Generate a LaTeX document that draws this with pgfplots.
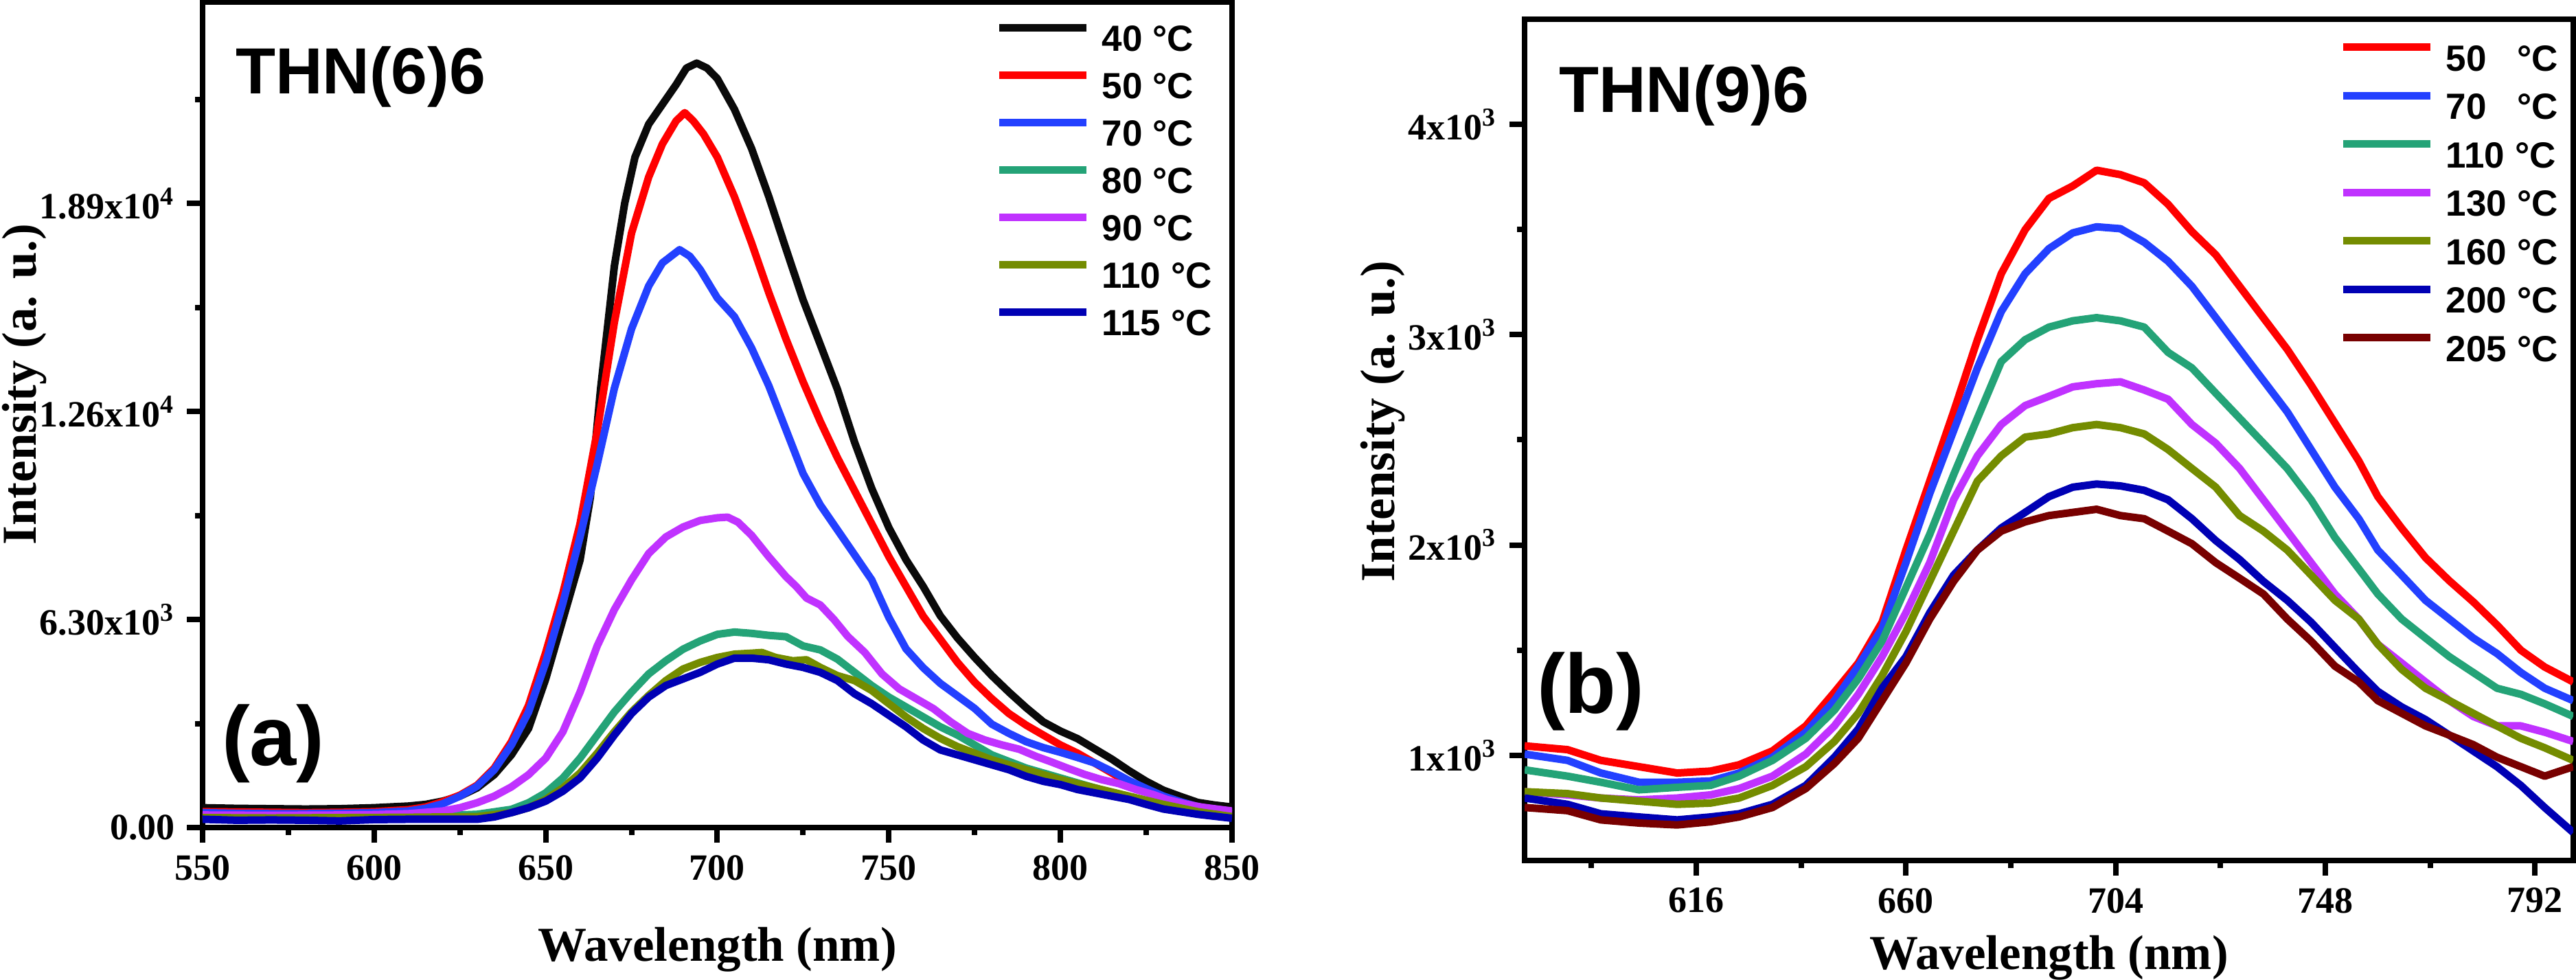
\documentclass[border=0pt]{standalone}
\usepackage{pgfplots}
\usepackage{pgfplotstable}
\pgfplotsset{compat=1.18}
\usepackage{fontspec}
\setmainfont{Liberation Serif}
\newfontfamily\arial{Liberation Sans}
\definecolor{cA}{RGB}{10,10,10}
\definecolor{cB}{RGB}{255,0,0}
\definecolor{cC}{RGB}{35,64,255}
\definecolor{cD}{RGB}{36,163,119}
\definecolor{cE}{RGB}{192,50,255}
\definecolor{cF}{RGB}{116,140,0}
\definecolor{cG}{RGB}{0,0,180}
\definecolor{cH}{RGB}{120,0,0}
\newcommand\tickfont{\fontsize{10.8}{12}\selectfont\bfseries}
\newcommand\labfont{\fontsize{14.2}{17}\selectfont\bfseries}
\newcommand\legfont{\arial\bfseries\fontsize{10.6}{12}\selectfont}

\pgfplotstableread{
x r b g p o n br
580 1045 1006 931 827 827 797 752
589 1027 976 901 812 818 767 737
596 976 916 872 797 797 722 693
604 946 872 836 788 782 707 678
612 916 872 848 797 767 693 669
619 925 878 857 812 773 707 684
625 955 916 901 842 797 722 707
632 1021 991 976 901 857 767 752
639 1140 1110 1081 1006 946 857 842
645 1300 1260 1215 1140 1066 991 961
650 1439 1424 1364 1290 1200 1125 1081
655 1633 1603 1543 1469 1379 1319 1260
660 1976 1916 1797 1678 1588 1469 1439
665 2304 2245 2051 1916 1827 1678 1648
670 2633 2543 2334 2215 2066 1857 1827
675 2976 2842 2603 2424 2304 1976 1976
680 3290 3110 2872 2573 2424 2081 2066
685 3499 3290 2976 2663 2513 2155 2110
690 3648 3409 3036 2707 2528 2230 2140
695 3707 3484 3066 2752 2558 2275 2155
700 3782 3513 3081 2767 2573 2290 2170
705 3761 3504 3066 2776 2558 2281 2140
710 3722 3439 3036 2737 2528 2260 2125
715 3620 3349 2916 2693 2454 2215 2066
720 3490 3230 2842 2573 2364 2125 2006
725 3380 3081 2722 2484 2275 2021 1916
730 3230 2931 2603 2364 2140 1931 1842
735 3080 2782 2484 2215 2066 1827 1767
740 2930 2633 2364 2066 1976 1737 1648
745 2760 2454 2215 1916 1857 1633 1543
750 2580 2275 2036 1767 1737 1513 1424
755 2400 2125 1887 1648 1648 1394 1349
759 2230 1976 1767 1528 1528 1304 1260
764 2080 1857 1648 1439 1409 1230 1200
769 1940 1737 1558 1349 1319 1170 1140
774 1830 1648 1469 1260 1260 1096 1096
779 1730 1558 1394 1185 1200 1021 1051
784 1620 1484 1319 1140 1140 946 991
789 1500 1394 1290 1140 1081 857 946
794 1420 1319 1245 1110 1036 752 901
800 1349 1260 1185 1066 976 633 946
}\tableB

\pgfplotsset{
  myaxis/.style={
    scale only axis, anchor=south west,
    axis line style={line width=1.7pt},
    tick pos=left, tick align=outside,
    major tick length=4.5pt, minor tick length=2.2pt,
    tick style={black, line width=1.6pt},
    tick label style={font=\tickfont},
    /pgf/number format/assume math mode=true,
    label style={font=\labfont},
    legend cell align=left,
    legend image code/.code={\draw[line width=2.2pt] (0pt,3.8pt) -- (25.4pt,3.8pt); \path (28.8pt,0pt);},
    every axis plot/.append style={line width=2.2pt, line join=round},
  },
}

\begin{document}
\begin{tikzpicture}
\useasboundingbox (0,0) rectangle (750.2pt,285.4pt);

\begin{axis}[myaxis,
  at={(59pt,44.4pt)}, width=299.8pt, height=240.4pt,
  xmin=550, xmax=850, ymin=0, ymax=25000,
  xtick={550,600,650,700,750,800,850},
  minor xtick={575,625,675,725,775,825},
  ytick={0,6300,12600,18900},
  minor ytick={3150,9450,15750,22050},
  yticklabels={0.00, 6.30x10\textsuperscript{3}, 1.26x10\textsuperscript{4}, 1.89x10\textsuperscript{4}},
  xlabel={Wavelength (nm)},
  xlabel style={at={(axis description cs:0.5,0)}, anchor=base, yshift=-39pt},
  ylabel={Intensity (a. u.)},
  ylabel style={at={(axis description cs:-0.1621,0.537)}, anchor=base},
  legend style={at={(0.7705,0.9813)}, anchor=north west, draw=none, fill=none,
    inner sep=0pt, outer sep=0pt, row sep=0pt, font=\legfont,
    nodes={inner sep=0pt, text height=9.9pt, text depth=3.9pt}},
]
\addplot[cA] coordinates {(550,600)(560,580)(570,570)(580,560)(590,570)(600,600)(610,650)(615,700)(620,800)(625,950)(630,1200)(635,1600)(640,2200)(645,3000)(650,4500)(655,6300)(660,8100)(663,10000)(666,13300)(670,17000)(673,18900)(676,20300)(680,21300)(684,21900)(688,22500)(691,23000)(694,23150)(697,23000)(700,22680)(705,21750)(710,20560)(715,19110)(720,17530)(725,15980)(730,14630)(735,13270)(740,11670)(745,10270)(750,9080)(755,8110)(760,7300)(765,6410)(770,5740)(775,5150)(780,4600)(785,4100)(790,3630)(795,3200)(800,2920)(805,2690)(810,2380)(815,2070)(820,1720)(825,1400)(830,1130)(835,940)(840,760)(845,680)(850,620)};
\addlegendentry{40 °C}
\addplot[cB] coordinates {(550,480)(560,470)(570,460)(580,450)(590,460)(600,480)(610,540)(615,620)(620,780)(625,980)(630,1280)(635,1800)(640,2600)(645,3700)(650,5300)(655,7100)(660,9200)(665,12000)(670,15300)(675,18000)(680,19700)(684,20700)(688,21400)(690.5,21650)(693,21400)(696,21000)(700,20300)(705,19100)(710,17700)(715,16200)(720,14800)(725,13500)(730,12300)(735,11200)(740,10200)(745,9200)(750,8200)(755,7300)(760,6400)(765,5700)(770,5000)(775,4400)(780,3900)(785,3450)(790,3100)(795,2800)(800,2500)(805,2250)(810,1950)(815,1650)(820,1350)(825,1100)(830,900)(835,750)(840,600)(845,480)(850,400)};
\addlegendentry{50 °C}
\addplot[cC] coordinates {(550,450)(560,430)(570,420)(580,420)(590,430)(600,450)(610,500)(615,580)(620,720)(625,950)(630,1250)(635,1750)(640,2500)(645,3500)(650,5000)(655,6800)(660,8800)(665,11000)(670,13300)(675,15100)(680,16400)(684,17100)(689,17500)(692,17300)(695,16900)(700,16040)(705,15470)(710,14520)(715,13380)(720,12050)(725,10720)(730,9770)(735,9015)(740,8260)(745,7500)(750,6360)(755,5410)(760,4840)(765,4365)(770,3986)(775,3606)(780,3130)(785,2850)(790,2600)(795,2420)(800,2278)(805,2120)(810,1955)(815,1700)(820,1420)(825,1180)(830,950)(835,780)(840,630)(845,540)(850,475)};
\addlegendentry{70 °C}
\addplot[cD] coordinates {(550,330)(570,320)(590,330)(610,340)(620,360)(630,400)(640,550)(645,750)(650,1050)(655,1500)(660,2100)(665,2800)(670,3500)(675,4100)(680,4650)(685,5050)(690,5400)(695,5650)(700,5850)(705,5920)(710,5880)(715,5820)(720,5780)(725,5500)(730,5380)(735,5100)(740,4700)(745,4300)(750,3950)(755,3650)(760,3350)(765,3050)(770,2800)(775,2500)(780,2200)(785,2000)(790,1800)(795,1650)(800,1500)(810,1200)(820,900)(830,680)(840,520)(850,420)};
\addlegendentry{80 °C}
\addplot[cE] coordinates {(550,380)(570,370)(590,380)(600,390)(610,420)(620,500)(625,600)(630,750)(635,950)(640,1230)(645,1600)(650,2100)(655,2900)(660,4100)(665,5500)(670,6600)(675,7500)(680,8300)(685,8800)(690,9100)(695,9300)(700,9380)(703,9400)(706,9250)(710,8850)(715,8200)(720,7600)(723,7300)(726,6950)(730,6740)(734,6300)(738,5790)(743,5300)(748,4650)(753,4200)(758,3900)(763,3600)(768,3200)(773,2850)(778,2650)(783,2500)(788,2370)(793,2150)(797,2000)(802,1800)(807,1610)(812,1450)(817,1330)(822,1150)(827,1000)(831,850)(836,720)(841,620)(850,500)};
\addlegendentry{90 °C}
\addplot[cF] coordinates {(550,300)(570,290)(590,300)(610,310)(620,320)(630,330)(640,450)(645,600)(650,850)(655,1200)(660,1650)(665,2250)(670,2900)(675,3500)(680,4000)(685,4450)(690,4800)(695,5000)(700,5150)(705,5250)(710,5280)(713,5300)(717,5150)(722,5050)(726,5080)(730,4850)(735,4600)(740,4450)(745,4150)(750,3750)(755,3350)(760,3000)(765,2700)(770,2450)(775,2250)(780,2050)(785,1900)(790,1750)(800,1450)(810,1200)(820,950)(830,700)(840,480)(850,330)};
\addlegendentry{110 °C}
\addplot[cG] coordinates {(550,250)(560,220)(570,230)(580,220)(590,200)(600,240)(610,250)(620,250)(630,250)(635,320)(640,450)(645,600)(650,800)(655,1100)(660,1500)(665,2100)(670,2800)(675,3450)(680,3950)(685,4300)(690,4500)(695,4700)(700,4950)(705,5130)(710,5130)(715,5080)(720,4950)(725,4850)(730,4700)(735,4450)(740,4050)(745,3750)(750,3400)(755,3050)(760,2650)(765,2350)(770,2200)(775,2050)(780,1900)(785,1750)(790,1550)(795,1400)(800,1300)(805,1150)(810,1050)(815,950)(820,850)(825,700)(830,560)(840,400)(850,280)};
\addlegendentry{115 °C}
\end{axis}

\begin{axis}[myaxis,
  at={(444pt,34.8pt)}, width=305.4pt, height=245pt,
  xmin=580, xmax=800, ymin=500, ymax=4500,
  xtick={616,660,704,748,792},
  minor xtick={594,638,682,726,770},
  ytick={1000,2000,3000,4000},
  minor ytick={1500,2500,3500},
  yticklabels={1x10\textsuperscript{3}, 2x10\textsuperscript{3}, 3x10\textsuperscript{3}, 4x10\textsuperscript{3}},
  xlabel={Wavelength (nm)},
  xlabel style={at={(axis description cs:0.5,0)}, anchor=base, yshift=-31.8pt},
  ylabel={Intensity (a. u.)},
  ylabel style={at={(axis description cs:-0.1238,0.5216)}, anchor=base},
  legend style={at={(0.7773,0.980)}, anchor=north west, draw=none, fill=none,
    inner sep=0pt, outer sep=0pt, row sep=0pt, font=\legfont,
    nodes={inner sep=0pt, text height=10.1pt, text depth=4.0pt}},
]
\addplot[cB] table[x=x,y=r] {\tableB};
\addlegendentry{50\hphantom{0} °C}
\addplot[cC] table[x=x,y=b] {\tableB};
\addlegendentry{70\hphantom{0} °C}
\addplot[cD] table[x=x,y=g] {\tableB};
\addlegendentry{110 °C}
\addplot[cE] table[x=x,y=p] {\tableB};
\addlegendentry{130 °C}
\addplot[cF] table[x=x,y=o] {\tableB};
\addlegendentry{160 °C}
\addplot[cG] table[x=x,y=n] {\tableB};
\addlegendentry{200 °C}
\addplot[cH] table[x=x,y=br] {\tableB};
\addlegendentry{205 °C}
\end{axis}

\node[anchor=base west, inner sep=0pt, font=\arial\bfseries\fontsize{19}{22}\selectfont] at (68.4pt,258pt) {THN(6)6};
\node[anchor=base west, inner sep=0pt, font=\arial\bfseries\fontsize{19}{22}\selectfont] at (453.8pt,252.6pt) {THN(9)6};
\node[anchor=base west, inner sep=0pt, font=\arial\bfseries\fontsize{24.5}{28}\selectfont] at (64.4pt,62.4pt) {(a)};
\node[anchor=base west, inner sep=0pt, font=\arial\bfseries\fontsize{24.5}{28}\selectfont] at (447.4pt,77.6pt) {(b)};
\end{tikzpicture}
\end{document}
